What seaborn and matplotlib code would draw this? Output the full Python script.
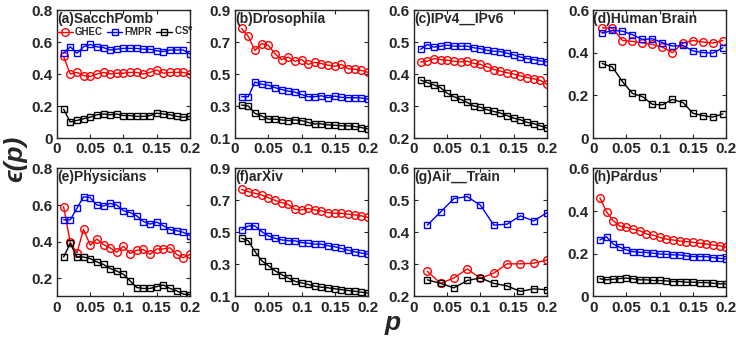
import numpy as np
import pandas as pd
import matplotlib
matplotlib.use("Agg")
import matplotlib.pyplot as plt
import seaborn as sns

# ---------------- data ----------------
x20 = [round(0.01 * i, 2) for i in range(1, 21)]
x13 = [0.0136, 0.0287, 0.044, 0.059, 0.074, 0.089, 0.104, 0.119, 0.135, 0.150, 0.165, 0.180, 0.195]
x10 = [0.02, 0.04, 0.06, 0.08, 0.10, 0.12, 0.14, 0.16, 0.18, 0.20]

a_ghec = [0.51, 0.40, 0.41, 0.39, 0.385, 0.40, 0.41, 0.40, 0.405, 0.405, 0.41, 0.41, 0.40, 0.41, 0.425, 0.405, 0.41, 0.41, 0.41, 0.40]
a_fmpr = [0.53, 0.57, 0.53, 0.57, 0.585, 0.57, 0.565, 0.55, 0.555, 0.56, 0.56, 0.56, 0.555, 0.555, 0.545, 0.54, 0.55, 0.55, 0.55, 0.525]
a_cs = [0.18, 0.10, 0.11, 0.12, 0.13, 0.145, 0.15, 0.145, 0.15, 0.14, 0.14, 0.135, 0.135, 0.14, 0.155, 0.15, 0.145, 0.135, 0.13, 0.135]

b_ghec = [0.785, 0.735, 0.647, 0.69, 0.68, 0.627, 0.59, 0.606, 0.58, 0.59, 0.56, 0.573, 0.565, 0.555, 0.548, 0.56, 0.533, 0.53, 0.523, 0.51]
b_fmpr = [0.358, 0.358, 0.45, 0.436, 0.43, 0.415, 0.403, 0.393, 0.387, 0.372, 0.358, 0.358, 0.364, 0.352, 0.362, 0.354, 0.352, 0.352, 0.35, 0.343]
b_cs = [0.306, 0.30, 0.254, 0.238, 0.218, 0.218, 0.213, 0.209, 0.213, 0.209, 0.197, 0.188, 0.188, 0.182, 0.18, 0.176, 0.176, 0.172, 0.165, 0.157]

c_ghec = [0.438, 0.440, 0.448, 0.445, 0.443, 0.440, 0.438, 0.440, 0.433, 0.430, 0.422, 0.414, 0.409, 0.404, 0.400, 0.394, 0.389, 0.385, 0.380, 0.368]
c_fmpr = [0.477, 0.492, 0.484, 0.487, 0.490, 0.487, 0.487, 0.487, 0.482, 0.479, 0.474, 0.471, 0.470, 0.465, 0.460, 0.453, 0.448, 0.445, 0.441, 0.438]
c_cs = [0.381, 0.373, 0.366, 0.357, 0.340, 0.329, 0.321, 0.311, 0.300, 0.296, 0.288, 0.283, 0.278, 0.270, 0.262, 0.257, 0.249, 0.245, 0.238, 0.231]

d_ghec = [0.516, 0.516, 0.457, 0.453, 0.446, 0.439, 0.426, 0.400, 0.445, 0.457, 0.450, 0.445, 0.457]
d_fmpr = [0.491, 0.504, 0.501, 0.484, 0.462, 0.465, 0.447, 0.431, 0.434, 0.408, 0.400, 0.398, 0.423]
d_cs = [0.349, 0.333, 0.264, 0.209, 0.194, 0.158, 0.155, 0.181, 0.166, 0.116, 0.105, 0.098, 0.113]

e_ghec = [0.591, 0.396, 0.338, 0.468, 0.380, 0.414, 0.384, 0.366, 0.342, 0.375, 0.335, 0.353, 0.357, 0.330, 0.360, 0.360, 0.366, 0.330, 0.312, 0.330]
e_fmpr = [0.519, 0.519, 0.582, 0.645, 0.641, 0.600, 0.595, 0.609, 0.600, 0.569, 0.559, 0.541, 0.510, 0.496, 0.507, 0.487, 0.465, 0.460, 0.451, 0.433]
e_cs = [0.316, 0.391, 0.316, 0.316, 0.307, 0.289, 0.275, 0.253, 0.239, 0.221, 0.185, 0.149, 0.144, 0.144, 0.154, 0.163, 0.144, 0.131, 0.113, 0.110]

f_ghec = [0.769, 0.755, 0.745, 0.734, 0.718, 0.701, 0.687, 0.676, 0.645, 0.641, 0.650, 0.641, 0.635, 0.624, 0.620, 0.620, 0.614, 0.610, 0.604, 0.594]
f_fmpr = [0.516, 0.541, 0.541, 0.506, 0.479, 0.464, 0.454, 0.448, 0.448, 0.437, 0.433, 0.427, 0.427, 0.417, 0.411, 0.400, 0.390, 0.379, 0.371, 0.365]
f_cs = [0.464, 0.448, 0.381, 0.324, 0.293, 0.261, 0.237, 0.216, 0.195, 0.185, 0.175, 0.164, 0.158, 0.154, 0.148, 0.143, 0.137, 0.133, 0.127, 0.121]

g_ghec = [0.279, 0.241, 0.258, 0.286, 0.257, 0.273, 0.302, 0.302, 0.304, 0.314]
g_fmpr = [0.423, 0.464, 0.506, 0.512, 0.485, 0.423, 0.426, 0.452, 0.436, 0.462]
g_cs = [0.252, 0.241, 0.227, 0.250, 0.258, 0.241, 0.233, 0.216, 0.224, 0.221]

h_ghec = [0.463, 0.397, 0.355, 0.330, 0.324, 0.315, 0.308, 0.293, 0.288, 0.277, 0.269, 0.265, 0.260, 0.257, 0.254, 0.249, 0.246, 0.241, 0.238, 0.231]
h_fmpr = [0.265, 0.280, 0.246, 0.231, 0.218, 0.210, 0.207, 0.206, 0.203, 0.199, 0.198, 0.195, 0.195, 0.190, 0.187, 0.187, 0.187, 0.182, 0.179, 0.176]
h_cs = [0.083, 0.078, 0.081, 0.084, 0.086, 0.083, 0.078, 0.078, 0.075, 0.075, 0.073, 0.070, 0.070, 0.067, 0.067, 0.065, 0.065, 0.062, 0.059, 0.059]

titles = ["(a)SacchPomb", "(b)Drosophila", "(c)IPv4__IPv6", "(d)Human Brain",
          "(e)Physicians", "(f)arXiv", "(g)Air__Train", "(h)Pardus"]
xs = [x20, x20, x20, x13, x20, x20, x10, x20]
ghec = [a_ghec, b_ghec, c_ghec, d_ghec, e_ghec, f_ghec, g_ghec, h_ghec]
fmpr = [a_fmpr, b_fmpr, c_fmpr, d_fmpr, e_fmpr, f_fmpr, g_fmpr, h_fmpr]
cs = [a_cs, b_cs, c_cs, d_cs, e_cs, f_cs, g_cs, h_cs]
ylims = [(0, 0.8), (0.1, 0.9), (0.2, 0.6), (0, 0.6), (0.1, 0.8), (0.1, 0.9), (0.2, 0.6), (0, 0.6)]
yticks = [[0, 0.2, 0.4, 0.6, 0.8], [0.1, 0.3, 0.5, 0.7, 0.9], [0.2, 0.3, 0.4, 0.5, 0.6],
          [0, 0.2, 0.4, 0.6], [0.2, 0.4, 0.6, 0.8], [0.1, 0.3, 0.5, 0.7, 0.9],
          [0.2, 0.3, 0.4, 0.5, 0.6], [0, 0.2, 0.4, 0.6]]
xticks = [0, 0.05, 0.1, 0.15, 0.2]
xticklabels = ["0", "0.05", "0.1", "0.15", "0.2"]
series_names = ["GHEC", "FMPR", "CS$^e$"]

# ---------------- style ----------------
sns.set_style("ticks")
plt.rcParams["font.family"] = ["Liberation Sans", "DejaVu Sans"]
plt.rcParams["font.weight"] = "bold"
plt.rcParams["axes.linewidth"] = 1.0
plt.rcParams["xtick.direction"] = "in"
plt.rcParams["ytick.direction"] = "in"
plt.rcParams["mathtext.default"] = "bf"

fig = plt.figure(figsize=(7.36, 3.38), dpi=100)
lefts = [0.0774, 0.3193, 0.5625, 0.8060]
bottoms = [0.5917, 0.1228]
W, H = 0.1807, 0.3787

colors = ["#ff0000", "#0000ff", "#000000"]
markers = ["o", "s", "s"]

for i in range(8):
    r, c = divmod(i, 4)
    ax = fig.add_axes([lefts[c], bottoms[r], W, H])
    for j, data in enumerate([ghec[i], fmpr[i], cs[i]]):
        sns.lineplot(x=xs[i], y=data, ax=ax, color=colors[j], marker=markers[j],
                     markersize=5.5 if markers[j] == "o" else 5,
                     markerfacecolor="none", markeredgecolor=colors[j],
                     markeredgewidth=1.0, linewidth=1.0, label=series_names[j],
                     legend=False)
    ax.set_xlim(0, 0.2)
    ax.set_ylim(*ylims[i])
    ax.set_xticks(xticks)
    ax.set_xticklabels(xticklabels)
    ax.set_yticks(yticks[i])
    ax.set_yticklabels([("%g" % v) for v in yticks[i]])
    ax.tick_params(axis="both", labelsize=11, length=3, width=0.8,
                   top=True, right=True, pad=3, colors="#262626")
    for lab in ax.get_xticklabels() + ax.get_yticklabels():
        lab.set_fontweight("bold")
    for s in ax.spines.values():
        s.set_visible(True)
        s.set_color("#262626")
    ax.text(0.0, 0.985, titles[i], transform=ax.transAxes, ha="left", va="top",
            fontsize=10, fontweight="bold", zorder=10)
    if i == 0:
        ax.legend(loc="center left", bbox_to_anchor=(0.0, 0.835), ncol=3, frameon=False,
                  handlelength=1.6, handletextpad=0.2, columnspacing=0.45,
                  borderaxespad=0.0, borderpad=0.0,
                  prop={"size": 7, "weight": "bold"})

fig.text(0.021, 0.53, "ϵ(p)", rotation=90, ha="center", va="center",
         fontsize=19, fontweight="bold", fontstyle="italic",
         family=["Liberation Sans", "DejaVu Sans"])
fig.text(0.534, 0.044, "p", ha="center", va="center",
         fontsize=19, fontweight="bold", fontstyle="italic")

fig.savefig("out.png", dpi=100)
